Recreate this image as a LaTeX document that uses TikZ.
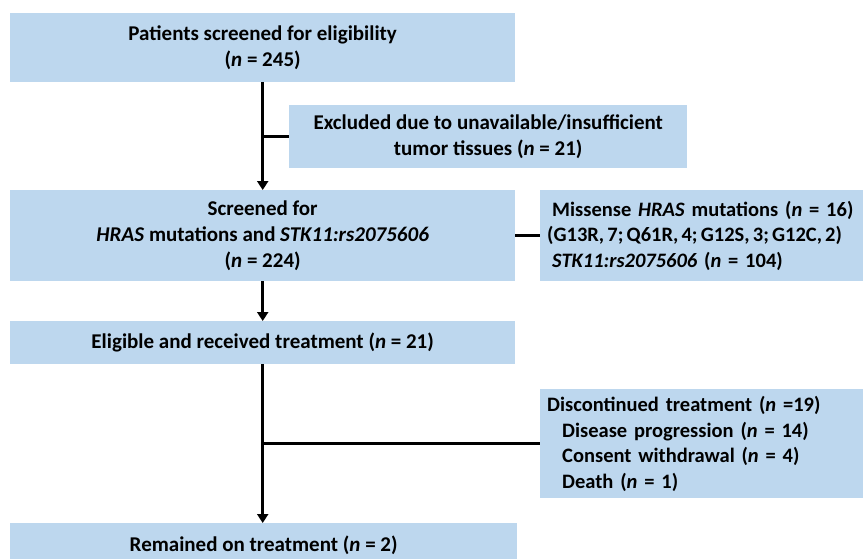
\documentclass[tikz,border=0pt]{standalone}
\usepackage{fontspec}
\setmainfont{Carlito}
\usetikzlibrary{arrows.meta}
\definecolor{boxblue}{RGB}{189,215,238}
\tikzset{
  box/.style={fill=boxblue, draw=none, inner sep=0pt, anchor=north west,
    font=\fontsize{21}{26}\selectfont\bfseries, align=center},
  sidebox/.style={fill=boxblue, draw=none, inner ysep=0pt, inner xsep=7pt, anchor=north west,
    font=\fontsize{20.5}{25.5}\selectfont\bfseries, align=left, text width=316pt},
  conn/.style={line width=2.6pt, black},
  arr/.style={conn, -{Triangle[width=11pt,length=9pt]}}
}
\newcommand{\nn}{\textit{n}}
\begin{document}
\begin{tikzpicture}[x=1pt,y=-1pt]
\useasboundingbox (0,0) rectangle (863,558);
\clip (0,0) rectangle (863,558);
\node[box, minimum width=505pt, minimum height=69pt] (b1) at (10,13)
  {Patients screened for eligibility\\(\nn{} = 245)};
\node[box, minimum width=398pt, minimum height=63pt] (excl) at (289,105)
  {Excluded due to unavailable/insufficient\\tumor tissues (\nn{} = 21)};
\node[box, minimum width=505pt, minimum height=91pt] (b2) at (10,190)
  {Screened for\\\textit{HRAS} mutations and \textit{STK11:rs2075606}\\(\nn{} = 224)};
\node[sidebox, minimum height=91pt] (miss) at (540,190)
  {\hspace*{5pt}Missense \textit{HRAS} mutations (\nn{} = 16)\\{\spaceskip=3.2pt (G13R, 7; Q61R, 4; G12S, 3; G12C, 2)}\\\hspace*{5pt}\textit{STK11:rs2075606} (\nn{} = 104)};
\node[box, minimum width=505pt, minimum height=43pt] (b3) at (10,321)
  {Eligible and received treatment (\nn{} = 21)};
\node[sidebox, minimum height=109pt] (disc) at (540,389)
  {Discontinued treatment (\nn{} =19)\\\hspace*{15pt}Disease progression (\nn{} = 14)\\\hspace*{15pt}Consent withdrawal (\nn{} = 4)\\\hspace*{15pt}Death (\nn{} = 1)};
\node[box, minimum width=507pt, minimum height=44pt] (b4) at (10,523)
  {Remained on treatment (\nn{} = 2)};
\draw[arr] (b1.south) -- (b2.north);
\draw[conn] (b1.south |- excl.west) -- (excl.west);
\draw[conn] (b2.east) -- (miss.west);
\draw[arr] (b2.south) -- (b3.north);
\draw[arr] (b3.south) -- (b3.south |- b4.north);
\draw[conn] (b3.south |- disc.west) -- (disc.west);
\end{tikzpicture}
\end{document}
